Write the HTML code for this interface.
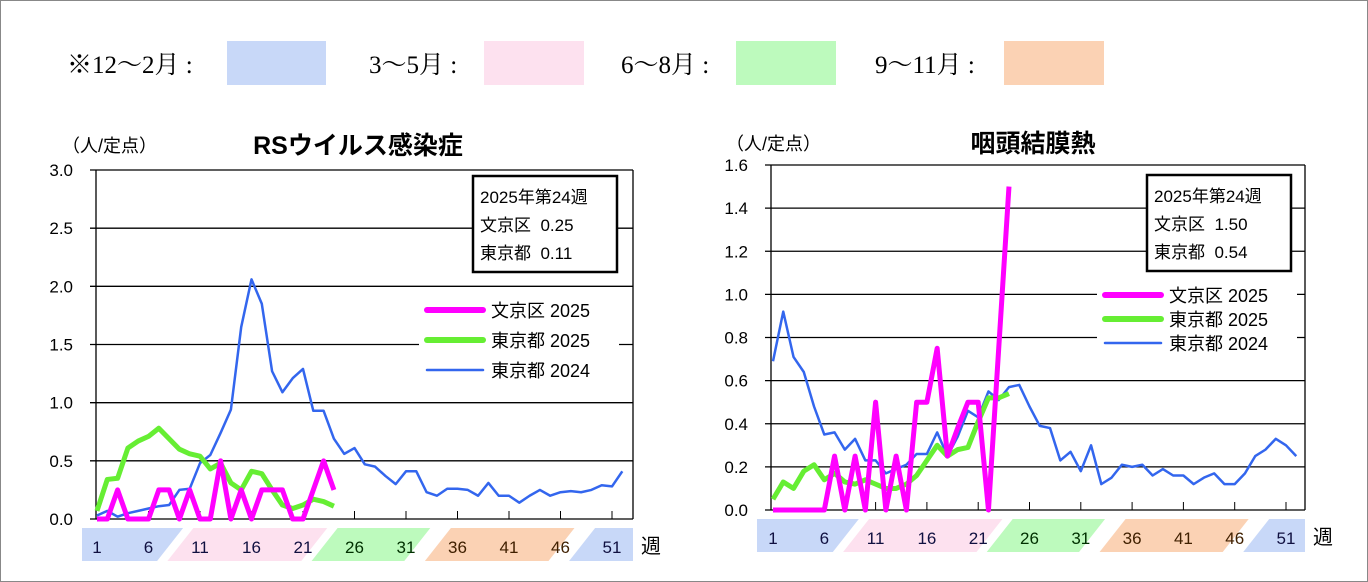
<!DOCTYPE html>
<html><head><meta charset="utf-8">
<style>
body{margin:0;background:#fff;}
svg{display:block;font-family:"Liberation Sans","Noto Sans CJK JP",sans-serif;}
</style></head>
<body>
<svg id="svg" width="1368" height="582" viewBox="0 0 1368 582" xmlns="http://www.w3.org/2000/svg">
<rect x="0.5" y="0.5" width="1367" height="581" fill="#fff" stroke="#888"/>
<g font-family="'Liberation Serif','Noto Serif CJK SC',serif" font-size="25" fill="#000">
<text x="67" y="73">※12～2月 :</text>
<rect x="227" y="41" width="99" height="44" fill="#c8d8f8"/>
<text x="369" y="73">3～5月 :</text>
<rect x="484" y="41" width="100" height="44" fill="#fde1ef"/>
<text x="621" y="73">6～8月 :</text>
<rect x="736" y="41" width="100" height="44" fill="#bdfabd"/>
<text x="875" y="73">9～11月 :</text>
<rect x="1004" y="41" width="100" height="44" fill="#fbd2b4"/>
</g>
<g id="c1"></g>
<g id="c2"></g>
</svg>
<script>
const weeks = Array.from({length:52},(_,i)=>i+1);
const rsvBunkyo2025 = [0,0,0.25,0,0,0,0.25,0.25,0,0.25,0,0,0.5,0,0.25,0,0.25,0.25,0.25,0,0,0.25,0.5,0.25];
const rsvTokyo2025 = [0.07,0.34,0.35,0.61,0.67,0.71,0.78,0.69,0.60,0.56,0.54,0.43,0.48,0.31,0.25,0.41,0.39,0.25,0.12,0.09,0.12,0.17,0.15,0.11];
const rsvTokyo2024 = [0.03,0.07,0.02,0.05,0.07,0.09,0.11,0.12,0.25,0.26,0.48,0.55,0.74,0.94,1.65,2.06,1.85,1.27,1.09,1.21,1.29,0.93,0.93,0.69,0.56,0.61,0.47,0.45,0.37,0.30,0.41,0.41,0.23,0.20,0.26,0.26,0.25,0.20,0.31,0.20,0.20,0.14,0.20,0.25,0.20,0.23,0.24,0.23,0.25,0.29,0.28,0.41];
const pcfBunkyo2025 = [0,0,0,0,0,0,0.25,0,0.25,0,0.5,0,0.25,0,0.5,0.5,0.75,0.25,0.38,0.5,0.5,0,0.75,1.5];
const pcfTokyo2025 = [0.05,0.13,0.10,0.18,0.21,0.14,0.17,0.13,0.12,0.14,0.12,0.10,0.10,0.12,0.16,0.23,0.30,0.25,0.28,0.29,0.41,0.52,0.52,0.54];
const pcfTokyo2024 = [0.69,0.92,0.71,0.64,0.48,0.35,0.36,0.28,0.33,0.23,0.23,0.17,0.19,0.21,0.26,0.26,0.36,0.25,0.34,0.46,0.43,0.55,0.51,0.57,0.58,0.48,0.39,0.38,0.23,0.27,0.18,0.30,0.12,0.15,0.21,0.20,0.21,0.16,0.19,0.16,0.16,0.12,0.15,0.17,0.12,0.12,0.17,0.25,0.28,0.33,0.30,0.25];
const rsvTicks = ["0.0","0.5","1.0","1.5","2.0","2.5","3.0"];
const pcfTicks = ["0.0","0.2","0.4","0.6","0.8","1.0","1.2","1.4","1.6"];
const weekLabels = [1,6,11,16,21,26,31,36,41,46,51];
const legendNames = ["文京区 2025","東京都 2025","東京都 2024"];
const rsvInfo = ["2025年第24週","文京区\u00a0\u00a00.25","東京都\u00a0\u00a00.11"];
const pcfInfo = ["2025年第24週","文京区\u00a0\u00a01.50","東京都\u00a0\u00a00.54"];

const NS="http://www.w3.org/2000/svg";
function mk(parent,tag,attrs,name,txt){
  const e=document.createElementNS(NS,tag);
  for(const k in attrs) e.setAttribute(k,attrs[k]);
  
  
  if(txt!==undefined) e.textContent=txt;
  parent.appendChild(e); return e;
}
function chart(g,cfg){
  const xs=w=>cfg.x1+(w-1)*cfg.dx;
  const ys=v=>cfg.y0-(v/cfg.max)*(cfg.y0-cfg.yTop);
  mk(g,'text',{x:cfg.titleX,y:cfg.top-16,'font-size':25,'font-weight':'bold','text-anchor':'middle'},'chart-title',cfg.title);
  mk(g,'text',{x:cfg.unitX,y:cfg.top-18,'font-size':18},'y-axis-unit','（人/定点）');
  cfg.ticks.forEach((t,i)=>{
    const v=i*cfg.max/(cfg.ticks.length-1), y=ys(v);
    mk(g,'line',{x1:cfg.left-6,x2:cfg.right,y1:y,y2:y,stroke:'#000','stroke-width':1.3},'gridline');
    mk(g,'text',{x:cfg.left-23,y:y+6,'font-size':17,'text-anchor':'end'},'y-tick-label',t);
  });
  mk(g,'line',{x1:cfg.left,x2:cfg.left,y1:cfg.yTop,y2:cfg.y0,stroke:'#000','stroke-width':1.3},'y-axis');
  mk(g,'line',{x1:cfg.right,x2:cfg.right,y1:cfg.yTop,y2:cfg.y0,stroke:'#000','stroke-width':1.3},'plot-right-border');
  weekLabels.forEach(w=>{ if(w>1) mk(g,'line',{x1:xs(w),x2:xs(w),y1:cfg.y0,y2:cfg.y0-8,stroke:'#000'},'x-tick');});
  const bt=cfg.y0+9, bb=bt+33;
  const band=(w0,w1,col,nm)=>{
    const a=xs(w0),b=xs(w1);
    mk(g,'polygon',{points:`${a+14},${bt} ${b+14},${bt} ${b-12},${bb} ${a-12},${bb}`,fill:col},nm);
  };
  const L=cfg.left-14;
  mk(g,'polygon',{points:`${L},${bt} ${xs(8)+14},${bt} ${xs(8)-12},${bb} ${L},${bb}`,fill:'#c8d8f8'},'band-winter-start');
  band(9,22,'#fde1ef','band-spring');
  band(23,32,'#bdfabd','band-summer');
  band(34,46,'#fbd2b4','band-autumn');
  const R=cfg.right;
  mk(g,'polygon',{points:`${xs(48)+14},${bt} ${R},${bt} ${R},${bb} ${xs(48)-12},${bb}`,fill:'#c8d8f8'},'band-winter-end');
  weekLabels.forEach(w=>mk(g,'text',{x:xs(w),y:bb-8,'font-size':17,'text-anchor':'middle',fill:w>=26&&w<=31?'#003000':(w>=36&&w<=46?'#402000':'#101040')},'x-tick-label',String(w)));
  mk(g,'text',{x:R+8,y:bb-8,'font-size':20},'x-axis-title','週');
  mk(g,'rect',{x:cfg.box[0],y:cfg.box[1],width:144,height:96,fill:'#fff',stroke:'#000','stroke-width':2.5},'info-box');
  cfg.info.forEach((s,i)=>mk(g,'text',{x:cfg.box[0]+7,y:cfg.box[1]+27+i*28,'font-size':17},'info-line',s));
  const lg=cfg.leg;
  mk(g,'rect',{x:lg[0]-8,y:lg[1]-14,width:200,height:lg[2]*2+28,fill:'#fff'},'legend-bg');
  const sty=[['#ff00ff',6],['#66ee33',6],['#3366ee',2.5]];
  legendNames.forEach((n,i)=>{
    const y=lg[1]+i*lg[2];
    mk(g,'line',{x1:lg[0],x2:lg[0]+56,y1:y,y2:y,stroke:sty[i][0],'stroke-width':sty[i][1],'stroke-linecap':'round'},'legend-line');
    mk(g,'text',{x:lg[0]+64,y:y+7,'font-size':18},'legend-entry',n);
  });
  const draw=(arr,col,w,nm)=>{
    const p=arr.map((v,i)=>xs(weeks[i])+','+ys(v)).join(' ');
    mk(g,'polyline',{points:p,fill:'none',stroke:col,'stroke-width':w,'stroke-linejoin':'round'},nm);
  };
  draw(cfg.s[2],'#3366ee',2.5,'series-tokyo-2024');
  draw(cfg.s[1],'#66ee33',5,'series-tokyo-2025');
  draw(cfg.s[0],'#ff00ff',5,'series-bunkyo-2025');
}
chart(document.getElementById('c1'),{x1:97,dx:10.3,left:96,right:633,y0:519,yTop:170,top:170,max:3,ticks:rsvTicks,
  title:'RSウイルス感染症',titleX:358,unitX:62,box:[473,176],info:rsvInfo,leg:[427,310,30],
  s:[rsvBunkyo2025,rsvTokyo2025,rsvTokyo2024]});
chart(document.getElementById('c2'),{x1:773,dx:10.26,left:771,right:1305,y0:510,yTop:165,top:168,max:1.6,ticks:pcfTicks,
  title:'咽頭結膜熱',titleX:1033,unitX:726,box:[1147,175],info:pcfInfo,leg:[1105,295,24],
  s:[pcfBunkyo2025,pcfTokyo2025,pcfTokyo2024]});
</script>
</body></html>
